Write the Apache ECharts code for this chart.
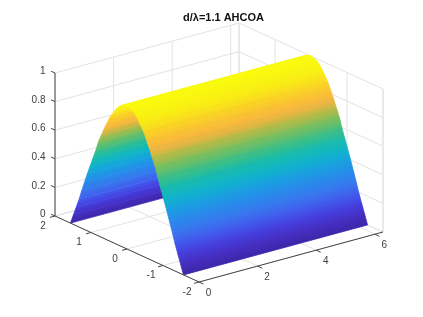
<!DOCTYPE html>
<html><head><meta charset="utf-8">
<style>html,body{margin:0;padding:0;background:#fff}#c{width:423px;height:317px}</style>
<script src="https://cdn.jsdelivr.net/npm/echarts@6/dist/echarts.min.js"></script>
</head><body><div id="c"></div>
<script>
const titleText = 'd/λ=1.1 AHCOA';
const xLimits = [0, 6.28];
const yLimits = [-2, 2];
const zLimits = [0, 1];
const xTicks = [0, 2, 4, 6];
const yTicks = [-2, -1, 0, 1, 2];
const zTicks = [0, 0.2, 0.4, 0.6, 0.8, 1];
const surfaceY = [1.57,1.49,1.41,1.33,1.26,1.18,1.10,1.02,0.94,0.86,0.79,0.71,0.63,0.55,0.47,0.39,0.31,0.24,0.16,0.08,0,
  -0.08,-0.16,-0.24,-0.31,-0.39,-0.47,-0.55,-0.63,-0.71,-0.79,-0.86,-0.94,-1.02,-1.10,-1.18,-1.26,-1.33,-1.41,-1.49,-1.57];
const surfaceZ = [0,0.065,0.13,0.195,0.26,0.33,0.40,0.465,0.53,0.595,0.66,0.715,0.77,0.82,0.87,0.905,0.94,0.965,0.985,0.996,1,
  0.996,0.985,0.965,0.94,0.905,0.87,0.82,0.77,0.715,0.66,0.595,0.53,0.465,0.40,0.33,0.26,0.195,0.13,0.065,0];
const colorStops = [0,0.08,0.15,0.23,0.37,0.45,0.52,0.62,0.70,0.77,0.84,0.92,1];
const colorValues = ['#3E26A8','#4630C8','#4545E8','#3E6FF0','#1E96E8','#0FB2D0','#12BBB0','#55C070','#A8BB48','#F8B540','#FBC82C','#F9EC14','#F9FB0E'];

// Linear view of the 3D box on the page (MATLAB-style orthographic view)
const view = {ox:127, oy:249, xx:29.3, xy:-7.96, yx:-36, yy:-16.5, zy:-143};
const project = (x,y,z) => [view.ox + view.xx*x + view.yx*y, view.oy + view.xy*x + view.yy*y + view.zy*z];
const tickLen = {x:0.125, y:0.17, z:0.11};

const [x0,x1] = xLimits, [y0,y1] = yLimits, [z0,z1] = zLimits;
const gridSegs = [];
xTicks.forEach(t => { gridSegs.push([t,y0,z0,t,y1,z0],[t,y1,z0,t,y1,z1]); });
yTicks.forEach(t => { gridSegs.push([x0,t,z0,x1,t,z0],[x1,t,z0,x1,t,z1]); });
zTicks.forEach(t => { gridSegs.push([x0,y1,t,x1,y1,t],[x1,y1,t,x1,y0,t]); });
gridSegs.push([x1,y1,z0,x1,y1,z1],[x1,y0,z0,x1,y0,z1],[x1,y0,z0,x1,y1,z0],[x0,y1,z0,x1,y1,z0]);

const axisSegs = [[x0,y0,z0,x1,y0,z0],[x0,y0,z0,x0,y1,z0],[x0,y1,z0,x0,y1,z1]];
xTicks.forEach(t => axisSegs.push([t,y0,z0,t,y0-tickLen.x,z0]));
yTicks.forEach(t => axisSegs.push([x0,t,z0,x0-tickLen.y,t,z0]));
zTicks.forEach(t => axisSegs.push([x0,y1,t,x0,y1+tickLen.z,t]));

const strips = surfaceY.slice(0,-1).map((y,i)=>[y,surfaceZ[i],surfaceY[i+1],surfaceZ[i+1]]);

function zColor(z){
  let i = 0;
  while (i < colorStops.length-2 && z > colorStops[i+1]) i++;
  const f = (z-colorStops[i])/(colorStops[i+1]-colorStops[i]);
  return echarts.color.lerp(Math.max(0,Math.min(1,f)), [colorValues[i],colorValues[i+1]]);
}
const lineSeries = (segs,color,width) => ({
  type:'custom', coordinateSystem:'cartesian2d', silent:true, animation:false, clip:false,
  data:segs,
  renderItem:(p,api)=>{
    const a = api.coord(project(api.value(0),api.value(1),api.value(2)));
    const b = api.coord(project(api.value(3),api.value(4),api.value(5)));
    return {type:'line',shape:{x1:a[0],y1:a[1],x2:b[0],y2:b[1]},style:{stroke:color,lineWidth:width,fill:null}};
  }
});
const labelSeries = (vals,pos,dx,dy,align) => ({
  type:'custom', coordinateSystem:'cartesian2d', silent:true, animation:false, clip:false,
  data:vals.map(v=>[v]),
  renderItem:(p,api)=>{
    const v = api.value(0), c = api.coord(pos(v));
    return {type:'text',x:c[0]+dx,y:c[1]+dy,style:{text:String(v),fill:'#404040',
      font:'10px "Liberation Sans", Arial, sans-serif',textAlign:align,textVerticalAlign:'middle'}};
  }
});

const chart = echarts.init(document.getElementById('c'),null,{renderer:'canvas'});
chart.setOption({
  animation:false,
  backgroundColor:'#fff',
  title:{text:titleText,left:218.5,top:7.5,textAlign:'center',
    textStyle:{fontFamily:'"Liberation Sans", Arial, sans-serif',fontWeight:'bold',fontSize:11,color:'#111'}},
  grid:{left:0,right:0,top:0,bottom:0},
  xAxis:{type:'value',min:0,max:423,show:false},
  yAxis:{type:'value',min:0,max:317,inverse:true,show:false},
  series:[
    lineSeries(gridSegs,'#e3e3e3',1),
    {type:'custom',coordinateSystem:'cartesian2d',silent:true,animation:false,clip:false,
     data:strips,
     renderItem:(p,api)=>{
       const ya=api.value(0),za=api.value(1),yb=api.value(2),zb=api.value(3);
       const pts=[project(x0,ya,za),project(x1,ya,za),project(x1,yb,zb),project(x0,yb,zb)].map(q=>api.coord(q));
       // gradient across the strip, perpendicular to its long edges
       const ex=pts[1][0]-pts[0][0], ey=pts[1][1]-pts[0][1], el=Math.hypot(ex,ey)||1;
       const nx=-ey/el, ny=ex/el;
       const d=(pts[3][0]-pts[0][0])*nx+(pts[3][1]-pts[0][1])*ny;
       const ca=zColor(za), cb=zColor(zb), mid=zColor((za+zb)/2);
       const fill=new echarts.graphic.LinearGradient(pts[0][0],pts[0][1],pts[0][0]+nx*d,pts[0][1]+ny*d,
         [{offset:0,color:ca},{offset:1,color:cb}],true);
       return {type:'polygon',shape:{points:pts},style:{fill:fill,stroke:mid,lineWidth:0.8}};
     }},
    lineSeries(axisSegs,'#454545',1),
    labelSeries(zTicks,t=>project(x0,y1,t),-9.5,-1.5,'right'),
    labelSeries(yTicks,t=>project(x0,t,z0),-12,10,'center'),
    labelSeries(xTicks,t=>project(t,y0,z0),9.5,11,'center')
  ]
});
</script></body></html>
